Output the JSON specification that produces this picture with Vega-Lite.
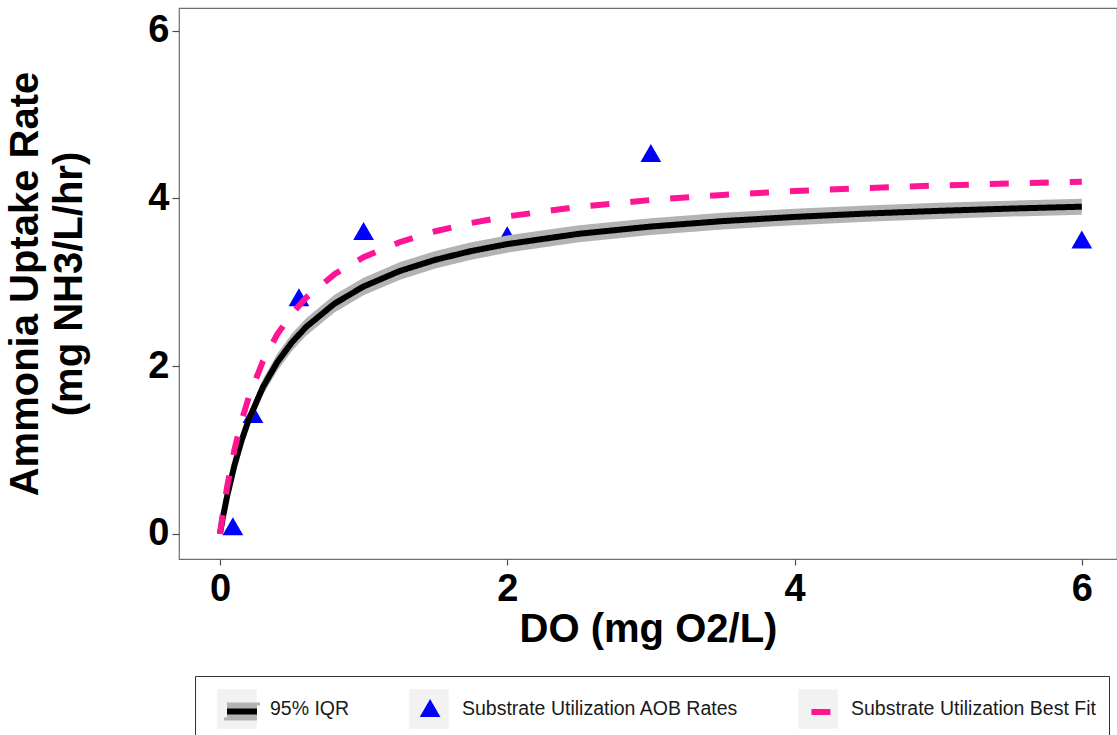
{
  "$schema": "https://vega.github.io/schema/vega-lite/v6.json",
  "width": 938,
  "height": 551,
  "autosize": {"type": "none"},
  "padding": {"left": 179, "top": 8, "right": 0, "bottom": 176},
  "background": "white",
  "config": {
    "font": "Liberation Sans",
    "view": {"stroke": "#6e6e6e", "strokeWidth": 1.2},
    "axis": {
      "grid": false,
      "domain": false,
      "tickColor": "#4d4d4d",
      "tickWidth": 1.2,
      "labelFont": "Liberation Sans",
      "labelFontWeight": "bold",
      "labelFontSize": 38,
      "labelColor": "#000000",
      "titleFont": "Liberation Sans",
      "titleFontWeight": "bold",
      "titleColor": "#000000"
    },
    "legend": {
      "orient": "none",
      "direction": "horizontal",
      "columns": 3,
      "symbolSize": 1444,
      "labelFont": "Liberation Sans",
      "labelFontSize": 19.5,
      "labelColor": "#1a1a1a",
      "labelLimit": 600,
      "labelOffset": 13,
      "columnPadding": 57,
      "rowPadding": 0,
      "padding": 13,
      "titleOrient": "left",
      "titleFontSize": 10,
      "titlePadding": 9
    }
  },
  "datasets": {
    "obs": [
      {"do": 0.09, "rate": 0.09, "series": "Substrate Utilization AOB Rates"},
      {"do": 0.23, "rate": 1.43, "series": "Substrate Utilization AOB Rates"},
      {"do": 0.55, "rate": 2.82, "series": "Substrate Utilization AOB Rates"},
      {"do": 1.0, "rate": 3.61, "series": "Substrate Utilization AOB Rates"},
      {"do": 2.0, "rate": 3.56, "series": "Substrate Utilization AOB Rates"},
      {"do": 3.0, "rate": 4.54, "series": "Substrate Utilization AOB Rates"},
      {"do": 6.0, "rate": 3.51, "series": "Substrate Utilization AOB Rates"}
    ],
    "iqr": [
      {"do": 0, "rate": 0, "lo": 0, "hi": 0, "series": "95% IQR"},
      {"do": 0.02, "rate": 0.192, "lo": 0.172, "hi": 0.212, "series": "95% IQR"},
      {"do": 0.05, "rate": 0.449, "lo": 0.409, "hi": 0.489, "series": "95% IQR"},
      {"do": 0.1, "rate": 0.811, "lo": 0.746, "hi": 0.876, "series": "95% IQR"},
      {"do": 0.15, "rate": 1.109, "lo": 1.034, "hi": 1.184, "series": "95% IQR"},
      {"do": 0.2, "rate": 1.358, "lo": 1.273, "hi": 1.443, "series": "95% IQR"},
      {"do": 0.3, "rate": 1.752, "lo": 1.657, "hi": 1.847, "series": "95% IQR"},
      {"do": 0.4, "rate": 2.049, "lo": 1.949, "hi": 2.149, "series": "95% IQR"},
      {"do": 0.5, "rate": 2.281, "lo": 2.176, "hi": 2.386, "series": "95% IQR"},
      {"do": 0.6, "rate": 2.467, "lo": 2.362, "hi": 2.572, "series": "95% IQR"},
      {"do": 0.8, "rate": 2.748, "lo": 2.643, "hi": 2.853, "series": "95% IQR"},
      {"do": 1.0, "rate": 2.949, "lo": 2.844, "hi": 3.054, "series": "95% IQR"},
      {"do": 1.25, "rate": 3.133, "lo": 3.028, "hi": 3.238, "series": "95% IQR"},
      {"do": 1.5, "rate": 3.268, "lo": 3.163, "hi": 3.373, "series": "95% IQR"},
      {"do": 1.75, "rate": 3.372, "lo": 3.267, "hi": 3.477, "series": "95% IQR"},
      {"do": 2.0, "rate": 3.455, "lo": 3.352, "hi": 3.558, "series": "95% IQR"},
      {"do": 2.5, "rate": 3.578, "lo": 3.477, "hi": 3.679, "series": "95% IQR"},
      {"do": 3.0, "rate": 3.664, "lo": 3.564, "hi": 3.764, "series": "95% IQR"},
      {"do": 3.5, "rate": 3.729, "lo": 3.630, "hi": 3.828, "series": "95% IQR"},
      {"do": 4.0, "rate": 3.779, "lo": 3.681, "hi": 3.877, "series": "95% IQR"},
      {"do": 4.5, "rate": 3.819, "lo": 3.722, "hi": 3.916, "series": "95% IQR"},
      {"do": 5.0, "rate": 3.851, "lo": 3.755, "hi": 3.947, "series": "95% IQR"},
      {"do": 5.5, "rate": 3.878, "lo": 3.783, "hi": 3.973, "series": "95% IQR"},
      {"do": 6.0, "rate": 3.901, "lo": 3.806, "hi": 3.996, "series": "95% IQR"}
    ],
    "fit": [
      {"do": 0, "rate": 0, "series": "Substrate Utilization Best Fit"},
      {"do": 0.02, "rate": 0.243, "series": "Substrate Utilization Best Fit"},
      {"do": 0.05, "rate": 0.561, "series": "Substrate Utilization Best Fit"},
      {"do": 0.1, "rate": 0.996, "series": "Substrate Utilization Best Fit"},
      {"do": 0.15, "rate": 1.343, "series": "Substrate Utilization Best Fit"},
      {"do": 0.2, "rate": 1.626, "series": "Substrate Utilization Best Fit"},
      {"do": 0.3, "rate": 2.062, "series": "Substrate Utilization Best Fit"},
      {"do": 0.4, "rate": 2.381, "series": "Substrate Utilization Best Fit"},
      {"do": 0.5, "rate": 2.624, "series": "Substrate Utilization Best Fit"},
      {"do": 0.6, "rate": 2.816, "series": "Substrate Utilization Best Fit"},
      {"do": 0.8, "rate": 3.099, "series": "Substrate Utilization Best Fit"},
      {"do": 1.0, "rate": 3.299, "series": "Substrate Utilization Best Fit"},
      {"do": 1.25, "rate": 3.477, "series": "Substrate Utilization Best Fit"},
      {"do": 1.5, "rate": 3.608, "series": "Substrate Utilization Best Fit"},
      {"do": 1.75, "rate": 3.707, "series": "Substrate Utilization Best Fit"},
      {"do": 2.0, "rate": 3.785, "series": "Substrate Utilization Best Fit"},
      {"do": 2.5, "rate": 3.9, "series": "Substrate Utilization Best Fit"},
      {"do": 3.0, "rate": 3.981, "series": "Substrate Utilization Best Fit"},
      {"do": 3.5, "rate": 4.041, "series": "Substrate Utilization Best Fit"},
      {"do": 4.0, "rate": 4.087, "series": "Substrate Utilization Best Fit"},
      {"do": 4.5, "rate": 4.123, "series": "Substrate Utilization Best Fit"},
      {"do": 5.0, "rate": 4.153, "series": "Substrate Utilization Best Fit"},
      {"do": 5.5, "rate": 4.177, "series": "Substrate Utilization Best Fit"},
      {"do": 6.0, "rate": 4.198, "series": "Substrate Utilization Best Fit"}
    ]
  },
  "encoding": {
    "x": {
      "field": "do",
      "type": "quantitative",
      "scale": {"domain": [-0.285, 6.245], "nice": false, "zero": false},
      "axis": {"values": [0, 2, 4, 6], "tickSize": 6, "labelPadding": 5, "titleFontSize": 40, "titlePadding": 1},
      "title": "DO (mg O2/L)"
    },
    "y": {
      "field": "rate",
      "type": "quantitative",
      "scale": {"domain": [-0.3, 6.27], "nice": false, "zero": false},
      "axis": {"values": [0, 2, 4, 6], "tickSize": 7, "labelPadding": 3, "titleFontSize": 40, "titleLineHeight": 44, "titlePadding": 58},
      "title": ["Ammonia Uptake Rate", "(mg NH3/L/hr)"]
    }
  },
  "layer": [
    {
      "data": {"name": "obs"},
      "mark": {"type": "point", "filled": true, "size": 430},
      "encoding": {
        "opacity": {
          "field": "series",
          "type": "ordinal",
          "scale": {
            "type": "point",
            "domain": ["95% IQR", "Substrate Utilization AOB Rates", "Substrate Utilization Best Fit"],
            "range": [1, 1]
          },
          "legend": {
            "title": " ",
            "zindex": 1,
            "legendX": 16,
            "legendY": 668,
            "strokeColor": "#333333",
            "symbolType": "square",
            "symbolSize": 1444,
            "symbolFillColor": "#f2f2f2",
            "symbolStrokeColor": "#f2f2f2",
            "symbolStrokeWidth": 1.5,
            "symbolOpacity": 1
          }
        },
        "shape": {
          "field": "series",
          "type": "nominal",
          "scale": {
            "domain": ["95% IQR", "Substrate Utilization AOB Rates"],
            "range": ["M-0.789,-0.316H0.789V0.316H-0.789Z", "triangle-up"]
          },
          "legend": {
            "title": null,
            "values": ["95% IQR"],
            "zindex": 2,
            "legendX": 41,
            "legendY": 681,
            "padding": 0,
            "labelOffset": 0,
            "labelExpr": "''",
            "symbolSize": 1444,
            "symbolFillColor": "#000000",
            "symbolStrokeColor": "#b3b3b3",
            "symbolStrokeWidth": 6,
            "symbolDash": [30, 12],
            "symbolOpacity": 1
          }
        },
        "color": {
          "field": "series",
          "type": "nominal",
          "scale": {
            "domain": ["Substrate Utilization AOB Rates", "95% IQR", "Substrate Utilization Best Fit"],
            "range": ["#0000FF", "#000000", "#FF1493"]
          },
          "legend": {
            "title": null,
            "values": ["Substrate Utilization AOB Rates"],
            "zindex": 2,
            "legendX": 240.6,
            "legendY": 689.6,
            "padding": 0,
            "labelOffset": 0,
            "labelExpr": "''",
            "symbolType": "triangle-up",
            "symbolSize": 430,
            "symbolStrokeWidth": 0,
            "symbolOpacity": 1
          }
        }
      }
    },
    {
      "data": {"name": "iqr"},
      "mark": {"type": "area", "color": "#b3b3b3", "opacity": 1},
      "encoding": {
        "y": {"field": "lo", "type": "quantitative"},
        "y2": {"field": "hi"}
      }
    },
    {
      "data": {"name": "iqr"},
      "mark": {"type": "line", "strokeWidth": 6, "strokeCap": "butt"},
      "encoding": {
        "color": {"field": "series", "type": "nominal"},
        "strokeDash": {
          "field": "series",
          "type": "nominal",
          "scale": {
            "domain": ["Substrate Utilization Best Fit", "95% IQR"],
            "range": [[19, 21], [1, 0]]
          },
          "legend": {
            "title": null,
            "values": ["Substrate Utilization Best Fit"],
            "zindex": 2,
            "legendX": 620.5,
            "legendY": 682,
            "padding": 0,
            "labelOffset": 0,
            "labelExpr": "''",
            "symbolType": "M-0.53,0H0.53",
            "symbolSize": 1444,
            "symbolStrokeColor": "#FF1493",
            "symbolStrokeWidth": 6,
            "symbolOpacity": 1
          }
        }
      }
    },
    {
      "data": {"name": "fit"},
      "mark": {"type": "line", "strokeWidth": 6, "strokeCap": "butt"},
      "encoding": {
        "color": {"field": "series", "type": "nominal"},
        "strokeDash": {"field": "series", "type": "nominal"}
      }
    }
  ]
}
